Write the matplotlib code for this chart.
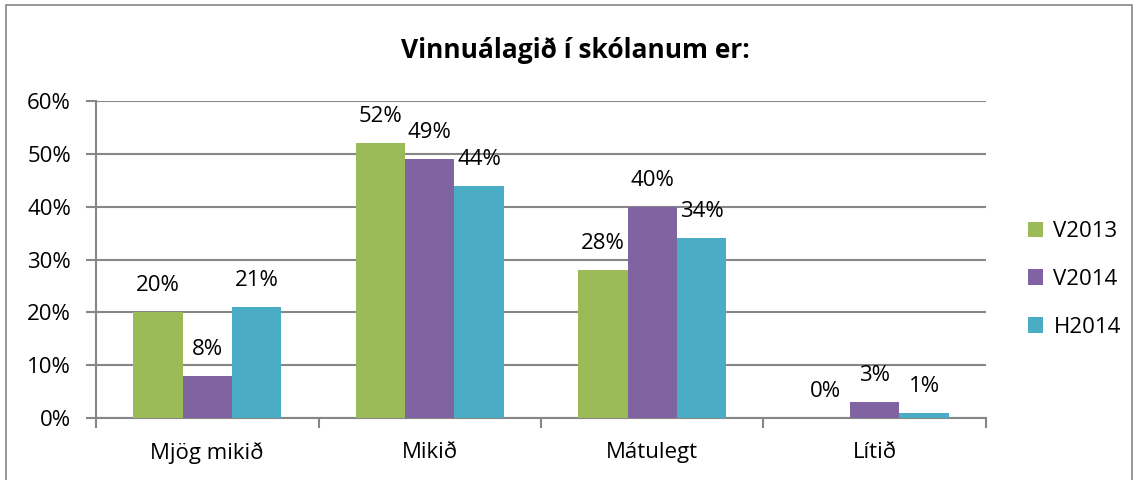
import matplotlib.pyplot as plt
import numpy as np
from matplotlib.patches import Rectangle

# data
categories = ['Mjög mikið', 'Mikið', 'Mátulegt', 'Lítið']
series = ['V2013', 'V2014', 'H2014']
v2013 = [20, 52, 28, 0]
v2014 = [8, 49, 40, 3]
h2014 = [21, 44, 34, 1]
colors = ['#9BBB59', '#8064A2', '#4BACC6']

plt.rcParams['font.family'] = ['Open Sans', 'DejaVu Sans']
fs = 16

fig = plt.figure(figsize=(11.39, 4.8), dpi=100)
ax = fig.add_axes([96 / 1139, 1 - 418 / 480, 890 / 1139, 317 / 480])

# outer frame like the excel chart area
fig.patches.append(Rectangle((6 / 1139, -0.01), 1126 / 1139, 1 - 5 / 480 + 0.01,
                             transform=fig.transFigure, fill=False,
                             edgecolor='#868686', linewidth=1.2))

x = np.arange(len(categories))
w = 1 / 4.5
for i, (name, vals) in enumerate(zip(series, [v2013, v2014, h2014])):
    pos = x + (i - 1) * w
    ax.bar(pos, vals, width=w, color=colors[i], label=name, zorder=3)
    for px, v in zip(pos, vals):
        ax.annotate(f'{v}%', (px, v), xytext=(0, 19), textcoords='offset points',
                    ha='center', va='center', fontsize=fs)

ax.set_xlim(-0.5, 3.5)
ax.set_ylim(0, 60)
ax.set_yticks(range(0, 61, 10))
ax.set_yticklabels([f'{t}%' for t in range(0, 61, 10)], fontsize=fs)
ax.set_xticks(x)
ax.set_xticklabels(categories, fontsize=fs)
ax.set_xticks(np.arange(-0.5, 4, 1), minor=True)
ax.tick_params(axis='x', which='major', length=0, pad=17)
ax.tick_params(axis='x', which='minor', length=7, width=1.5, color='#868686')
ax.tick_params(axis='y', length=7, width=1.5, color='#868686', pad=11)
ax.grid(axis='y', color='#868686', linewidth=1.5, zorder=0)
for s in ['top', 'right']:
    ax.spines[s].set_visible(False)
for s in ['left', 'bottom']:
    ax.spines[s].set_color('#868686')
    ax.spines[s].set_linewidth(1.5)

fig.text(575 / 1139, 1 - 50 / 480, 'Vinnuálagið í skólanum er:', ha='center',
         va='center', fontsize=19, fontweight='bold')

ax.legend(loc='center left', bbox_to_anchor=(1.047, 0.437), frameon=False,
          fontsize=fs, handlelength=0.7, handleheight=0.7, labelspacing=1.2,
          handletextpad=0.45, borderaxespad=0, borderpad=0)

fig.savefig('out.png', dpi=100)
